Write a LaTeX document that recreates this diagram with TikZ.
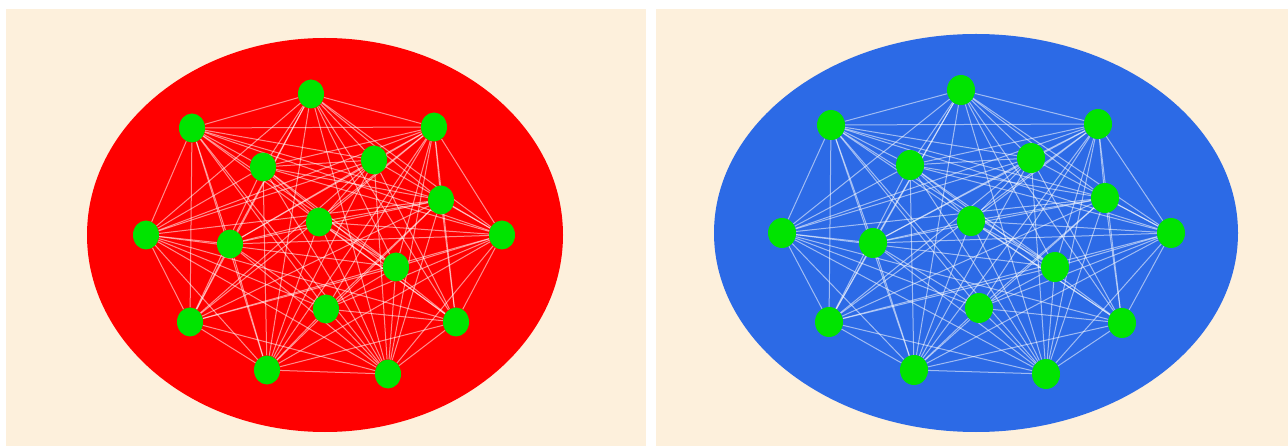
\documentclass[tikz,border=0pt]{standalone}
\usetikzlibrary{shapes.geometric}
\pgfdeclarelayer{bg}
\pgfsetlayers{bg,main}
\definecolor{cream}{HTML}{FDF0DC}
\definecolor{redbg}{HTML}{FF0000}
\definecolor{bluebg}{HTML}{2C6AE6}
\definecolor{nodegreen}{HTML}{00E400}
\tikzset{
  vert/.style={ellipse, fill=nodegreen, inner sep=0pt, minimum width=26pt, minimum height=29pt},
  vertR/.style={vert, minimum width=28pt, minimum height=30pt},
  edge/.style={draw=white, draw opacity=0.55, line width=1pt},
  panel/.style={fill=cream, draw=none}
}
\newcommand\myedges{a/b,a/c,a/d,a/e,a/f,a/h,a/i,a/j,a/k,a/m,a/n,a/o,a/p,
b/c,b/d,b/e,b/f,b/h,b/i,b/j,b/k,b/l,b/m,b/n,b/o,b/p,
c/d,c/e,c/f,c/g,c/h,c/i,c/j,c/k,c/l,c/m,c/n,c/o,c/p,
d/e,d/f,d/g,d/h,d/j,d/k,d/m,d/n,d/o,d/p,
e/g,e/h,e/i,e/j,e/m,e/n,e/o,e/p,
f/g,f/h,f/i,f/j,f/l,f/m,f/n,f/o,f/p,
g/i,g/j,g/k,g/n,g/o,g/p,
h/i,h/k,h/l,h/m,h/n,h/o,h/p,
i/j,i/l,i/m,i/o,i/p,
j/k,j/l,j/m,j/n,j/o,j/p,
k/l,k/m,k/p,
l/n,l/o,l/p,
m/o,m/p,
n/o,n/p,
o/p}
\begin{document}
\begin{tikzpicture}[x=1pt,y=-1pt]
\useasboundingbox (0,0) rectangle (1288,446);
\begin{pgfonlayer}{bg}
  \fill[white] (0,0) rectangle (1288,446);
  \fill[panel] (6,9) rectangle (646,446);
  \fill[panel] (656,9) rectangle (1288,446);
  \fill[redbg] (325,235) ellipse [x radius=238, y radius=197];
  \fill[bluebg] (976,233) ellipse [x radius=262, y radius=199];
\end{pgfonlayer}
% left graph
\foreach \n/\x/\y in {a/311/94, b/192/128, c/434/127, d/263/167, e/374/160,
  f/441/200, g/319/222, h/146/235, i/230/244, j/502/235, k/396/267,
  l/326/309, m/190/322, n/456/322, o/267/370, p/388/374}
  \node[vert] (L\n) at (\x,\y) {};
% right graph
\foreach \n/\x/\y in {a/961/90, b/831/125, c/1098/124, d/910/165, e/1031/158,
  f/1105/198, g/971/221, h/782/233, i/873/243, j/1171/233, k/1055/267,
  l/979/308, m/829/322, n/1122/323, o/914/370, p/1046/374}
  \node[vertR] (R\n) at (\x,\y) {};
\begin{pgfonlayer}{bg}
  \foreach \u/\v in \myedges {
    \draw[edge] (L\u) -- (L\v);
    \draw[edge] (R\u) -- (R\v);
  }
\end{pgfonlayer}
\end{tikzpicture}
\end{document}
